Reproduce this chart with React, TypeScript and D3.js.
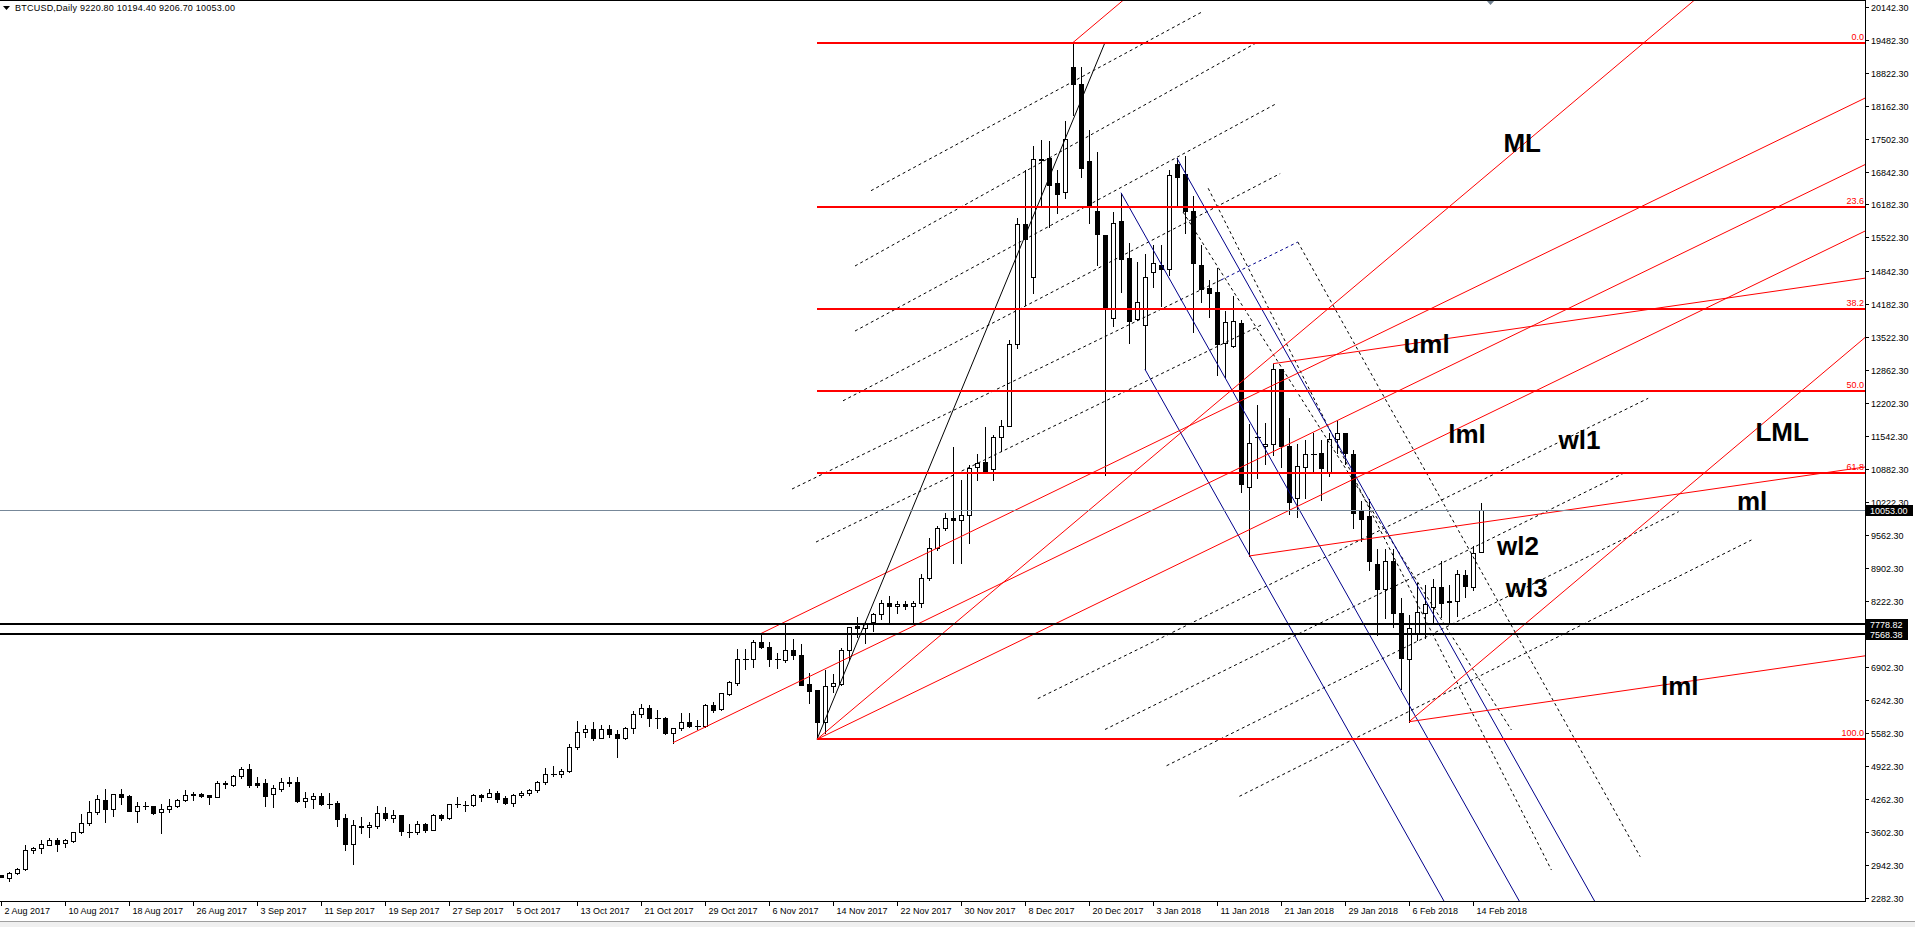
import React, { useRef, useEffect } from 'react';
import * as d3 from 'd3';

// BTCUSD daily bars, index 0 = 2 Aug 2017, last = 15 Feb 2018
const opens = [
  2737, 2670, 2770, 2851, 3232, 3272, 3332, 3439, 3372, 3425,
  3593, 3773, 3994, 4241, 4054, 4361, 4321, 4014, 4114, 4114,
  3994, 4054, 4114, 4234, 4335, 4355, 4335, 4308, 4575, 4548,
  4716, 4856, 4575, 4575, 4355, 4468, 4595, 4595, 4228, 4261,
  4315, 4168, 4174, 3880, 3359, 3720, 3693, 3726, 3974, 3887,
  3934, 3606, 3593, 3753, 3646, 3940, 3887, 4154, 4148, 4148,
  4335, 4308, 4375, 4281, 4188, 4335, 4380, 4440, 4610, 4770,
  4760, 4820, 5297, 5598, 5671, 5491, 5658, 5565, 5478, 5685,
  5959, 6079, 5879, 5879, 5591, 5678, 5812, 5732, 5732, 6139,
  6059, 6367, 6580, 7062, 7062, 7409, 7316, 7075, 7049, 7242,
  7142, 6560, 6447, 5812, 6527, 6567, 7249, 7730, 7683, 7817,
  7971, 8184, 8131, 8171, 8131, 8184, 8700, 9300, 9700, 9900,
  9850, 9950, 10912, 11012, 10872, 11513, 11747, 13378, 15784, 14735,
  17088, 17121, 16607, 16439, 18932, 18592, 17054, 16052, 15570, 13899,
  15858, 15102, 13879, 13765, 14835, 14962, 14882, 16987, 16794, 16052,
  14962, 14501, 14420, 13411, 13345, 13799, 10511, 11526, 11339, 11379,
  12884, 11346, 10303, 10925, 11179, 11192, 10791, 11473, 11593, 11172,
  10036, 9935, 8967, 8466, 9033, 7984, 7062, 7583, 7997, 8104,
  8505, 8204, 8231, 8745, 8505, 9220.8,
];
const highs = [
  2745, 2804, 2884, 3339, 3305, 3439, 3472, 3472, 3452, 3607,
  3960, 4221, 4335, 4461, 4355, 4461, 4335, 4194, 4194, 4127,
  4154, 4261, 4261, 4441, 4395, 4375, 4335, 4622, 4622, 4736,
  4896, 4963, 4696, 4656, 4542, 4676, 4696, 4696, 4408, 4381,
  4381, 4381, 4214, 3954, 3833, 3907, 3800, 4121, 4101, 4034,
  3940, 3760, 3820, 3773, 3954, 3954, 4168, 4295, 4214, 4355,
  4355, 4461, 4422, 4321, 4355, 4420, 4470, 4620, 4880, 4920,
  4870, 5363, 5825, 5745, 5812, 5745, 5745, 5645, 5712, 6033,
  6159, 6146, 6046, 5906, 5678, 5979, 5979, 5845, 6159, 6213,
  6394, 6634, 7269, 7269, 7450, 7580, 7416, 7182, 7783, 7463,
  7362, 6781, 6447, 6848, 6761, 7282, 7717, 7917, 7817, 7984,
  8251, 8332, 8238, 8238, 8238, 8780, 9500, 9730, 10000, 11326,
  10658, 10960, 11179, 11727, 11560, 11861, 13465, 15905, 16874, 17355,
  17475, 17455, 16874, 17856, 19430, 18932, 17676, 17241, 15570, 16038,
  16419, 15403, 15022, 15189, 15370, 15370, 16874, 17108, 17154, 16352,
  15370, 14668, 14902, 14053, 14347, 13866, 11780, 12162, 11807, 12990,
  12891, 11907, 11379, 11459, 11593, 11459, 11593, 11847, 11593, 11259,
  10236, 10270, 9281, 9281, 9281, 8300, 7944, 8584, 8551, 8678,
  9033, 8545, 8852, 8852, 9334, 10194.4,
];
const lows = [
  2690, 2623, 2750, 2831, 3171, 3171, 3332, 3225, 3292, 3405,
  3573, 3740, 3954, 3807, 3927, 4167, 4027, 3807, 4054, 3967,
  3586, 4007, 4101, 4214, 4241, 4295, 4167, 4308, 4475, 4528,
  4682, 4508, 4508, 4128, 4107, 4428, 4528, 4201, 4107, 4087,
  4134, 4087, 3720, 3245, 2964, 3586, 3506, 3680, 3840, 3800,
  3539, 3506, 3553, 3600, 3646, 3833, 3854, 4107, 4014, 4128,
  4221, 4308, 4201, 4167, 4127, 4300, 4350, 4400, 4560, 4720,
  4700, 4810, 5257, 5511, 5444, 5478, 5511, 5110, 5465, 5591,
  5899, 5732, 5678, 5565, 5391, 5645, 5698, 5665, 5712, 6012,
  6046, 6340, 6547, 6874, 6915, 7282, 6928, 6894, 7015, 7075,
  6554, 6179, 5458, 5591, 6413, 6547, 7048, 7516, 7396, 7637,
  7870, 7783, 7984, 8080, 7817, 8120, 8650, 9250, 9650, 9000,
  9000, 9400, 10658, 10791, 10658, 11243, 11740, 13311, 14167, 14400,
  16172, 15738, 16005, 16306, 17977, 16740, 15805, 14969, 10758, 13746,
  14434, 13411, 13866, 12877, 14535, 14146, 14768, 16138, 15604, 13632,
  14233, 13933, 12764, 12730, 13331, 10424, 9134, 10691, 10978, 11152,
  10918, 9982, 9915, 10290, 10825, 10263, 10731, 11192, 10978, 9695,
  9434, 8848, 7547, 7881, 7717, 6474, 5811, 7449, 7483, 7817,
  7917, 7804, 7931, 8311, 8445, 9206.7,
];
const closes = [
  2700, 2770, 2851, 3232, 3278, 3352, 3432, 3365, 3432, 3593,
  3773, 3994, 4261, 4054, 4355, 4308, 4027, 4114, 4114, 3980,
  4054, 4121, 4241, 4335, 4355, 4321, 4308, 4575, 4560, 4716,
  4856, 4542, 4542, 4328, 4475, 4595, 4589, 4228, 4274, 4315,
  4161, 4168, 3867, 3359, 3733, 3693, 3740, 3974, 3887, 3934,
  3626, 3606, 3753, 3640, 3940, 3887, 4154, 4154, 4148, 4335,
  4308, 4375, 4268, 4188, 4335, 4380, 4440, 4610, 4770, 4760,
  4820, 5310, 5598, 5671, 5491, 5658, 5558, 5478, 5685, 5959,
  6079, 5879, 5879, 5591, 5678, 5812, 5725, 5732, 6139, 6046,
  6380, 6600, 7062, 7062, 7409, 7302, 7075, 7075, 7242, 7142,
  6554, 6433, 5812, 6534, 6580, 7249, 7717, 7683, 7783, 7971,
  8184, 8131, 8171, 8131, 8184, 8700, 9300, 9700, 9900, 9850,
  9950, 10892, 10992, 10805, 11513, 11740, 13378, 15784, 15484, 17088,
  17080, 16573, 16386, 17489, 18592, 16907, 16158, 15584, 14133, 15818,
  15082, 13852, 14233, 14721, 15002, 14882, 16767, 16740, 16052, 15002,
  14480, 14414, 13378, 13832, 13846, 10571, 11406, 11520, 11379, 12884,
  11346, 10210, 10938, 11172, 11179, 10905, 11473, 11593, 11192, 10003,
  9869, 9040, 8466, 9033, 7984, 7082, 7683, 8017, 8171, 8505,
  8198, 8238, 8765, 8532, 9200, 10053,
];

const dateBars = [0, 8, 16, 24, 32, 40, 48, 56, 64, 72, 80, 88, 96, 104, 112, 120, 128, 136, 144, 152, 160, 168, 176, 184];
const dateLabels = [
  '2 Aug 2017', '10 Aug 2017', '18 Aug 2017', '26 Aug 2017', '3 Sep 2017', '11 Sep 2017',
  '19 Sep 2017', '27 Sep 2017', '5 Oct 2017', '13 Oct 2017', '21 Oct 2017', '29 Oct 2017',
  '6 Nov 2017', '14 Nov 2017', '22 Nov 2017', '30 Nov 2017', '8 Dec 2017', '20 Dec 2017',
  '3 Jan 2018', '11 Jan 2018', '21 Jan 2018', '29 Jan 2018', '6 Feb 2018', '14 Feb 2018',
];

const priceTicks = [
  20142.3, 19482.3, 18822.3, 18162.3, 17502.3, 16842.3, 16182.3, 15522.3, 14842.3,
  14182.3, 13522.3, 12862.3, 12202.3, 11542.3, 10882.3, 10222.3, 9562.3, 8902.3,
  8222.3, 6902.3, 6242.3, 5582.3, 4922.3, 4262.3, 3602.3, 2942.3, 2282.3,
];

// fibonacci retracement: low anchor, high anchor (bar, price)
const fibLevels = [0, 23.6, 38.2, 50, 61.8, 100];
const fibLow: [number, number] = [102, 5458];
const fibHigh: [number, number] = [138, 19430];

// Andrews pitchforks: three pivots each (bar, price)
const pitchforkRed: [number, number][][] = [
  [[102, 5458], [134, 19430], [176, 5811]],
  [[156, 9134], [159, 12990], [176, 5811]],
  [[84, 5391], [95, 7580], [102, 5458]],
];
const pitchforkBlue: [number, number][] = [[140, 16419], [143, 12877], [147, 17108]];

// dotted trend lines: bar1, price1, bar2, price2
const dottedLines: [number, number, number, number][] = [
  [108.75, 16459, 150.25, 20054],
  [106.75, 14949, 157.1, 19440],
  [106.75, 13645, 159.4, 18203],
  [105.25, 12246, 159.9, 16802],
  [98.875, 10477, 152.5, 14668],
  [101.875, 9414, 157.6, 13770],
  [129.6, 6274, 205.9, 12296],
  [138, 5655, 202.8, 10792],
  [145.7, 4929, 209.7, 10022],
  [154.8, 4315, 218.8, 9455],
  [150.9, 16507, 193.8, 2837],
  [162.1, 15430, 204.9, 3104],
  [147.75, 16032, 188.8, 5645],
];
const dottedBlue: [number, number, number, number][] = [[152.5, 14668, 162.1, 15430]];

const levelLines = [7778.82, 7568.38];
const lastPrice = 10053.0;

const noteText = ['ML', 'uml', 'lml', 'wl1', 'LML', 'ml', 'wl2', 'wl3', 'lml'];
const noteBar = [187.8, 175.3, 180.9, 194.7, 219.3, 217, 187, 188.1, 207.5];
const notePrice = [17241, 13198, 11394, 11273, 11446, 10056, 9154, 8317, 6346];

const App: React.FC = () => {
  const ref = useRef<SVGSVGElement>(null);

  useEffect(() => {
    const svg = d3.select(ref.current);
    svg.selectAll('*').remove();

    const font = "'Liberation Sans', Arial, sans-serif";
    const right = 1865;
    const bottom = 901;
    const red = '#ff0000';
    const blue = '#00008b';

    const x = d3.scaleLinear().domain([0, 185]).range([1, 1481]);
    const y = d3.scaleLinear().domain([2282.3, 20142.3]).range([897.7, 7]);
    const px = (i: number) => Math.round(x(i)) + 0.5;
    const py = (p: number) => Math.round(y(p)) + 0.5;

    svg.append('rect').attr('width', 1915).attr('height', 927).attr('fill', '#fff');
    svg.append('defs').append('clipPath').attr('id', 'plot')
      .append('rect').attr('x', 0).attr('y', 0).attr('width', right).attr('height', bottom);

    const plot = svg.append('g').attr('clip-path', 'url(#plot)');

    // candles
    const bars = d3.range(opens.length);
    const cg = plot.append('g').attr('shape-rendering', 'crispEdges');
    cg.selectAll('line.wick').data(bars).join('line').attr('class', 'wick')
      .attr('x1', i => px(i)).attr('x2', i => px(i))
      .attr('y1', i => Math.round(y(highs[i]))).attr('y2', i => Math.round(y(lows[i])) + 1)
      .attr('stroke', '#000');
    const bodies = bars.filter(i => Math.abs(py(opens[i]) - py(closes[i])) >= 1);
    const dojis = bars.filter(i => Math.abs(py(opens[i]) - py(closes[i])) < 1);
    cg.selectAll('rect.body').data(bodies).join('rect').attr('class', 'body')
      .attr('x', i => px(i) - 2).attr('width', 4)
      .attr('y', i => py(Math.max(opens[i], closes[i])))
      .attr('height', i => py(Math.min(opens[i], closes[i])) - py(Math.max(opens[i], closes[i])))
      .attr('fill', i => (closes[i] >= opens[i] ? '#fff' : '#000'))
      .attr('stroke', '#000');
    cg.selectAll('line.doji').data(dojis).join('line').attr('class', 'doji')
      .attr('x1', i => px(i) - 2.5).attr('x2', i => px(i) + 3)
      .attr('y1', i => py(closes[i])).attr('y2', i => py(closes[i]))
      .attr('stroke', '#000');

    const seg = (
      g: d3.Selection<SVGGElement, unknown, null, undefined>,
      i1: number, p1: number, i2: number, p2: number,
      color: string, width = 1, dash?: string,
    ) => {
      const l = g.append('line')
        .attr('x1', x(i1)).attr('y1', y(p1)).attr('x2', x(i2)).attr('y2', y(p2))
        .attr('stroke', color).attr('stroke-width', width);
      if (dash) l.attr('stroke-dasharray', dash);
    };

    const og = plot.append('g');

    dottedLines.forEach(d => seg(og, d[0], d[1], d[2], d[3], '#000', 1, '3,3'));
    dottedBlue.forEach(d => seg(og, d[0], d[1], d[2], d[3], blue, 1, '3,3'));

    const fork = (pts: [number, number][], color: string) => {
      const mid: [number, number] = [(pts[1][0] + pts[2][0]) / 2, (pts[1][1] + pts[2][1]) / 2];
      const slope = (mid[1] - pts[0][1]) / (mid[0] - pts[0][0]);
      const far = 330;
      pts.forEach(p => seg(og, p[0], p[1], far, p[1] + slope * (far - p[0]), color, 1));
    };
    fork(pitchforkBlue, blue);
    pitchforkRed.forEach(f => fork(f, red));

    // fib retracement
    seg(og, fibLow[0], fibLow[1], fibHigh[0], fibHigh[1], '#000', 1);
    const fg = plot.append('g');
    fibLevels.forEach(lv => {
      const p = fibHigh[1] - (fibHigh[1] - fibLow[1]) * lv / 100;
      const yy = Math.round(y(p));
      fg.append('line').attr('x1', x(fibLow[0])).attr('x2', right)
        .attr('y1', yy).attr('y2', yy).attr('stroke', red).attr('stroke-width', 2);
      fg.append('text').attr('x', right - 1).attr('y', yy - 3)
        .attr('text-anchor', 'end').attr('font-family', font).attr('font-size', 9)
        .attr('fill', red).text(lv === 100 ? '100.0' : lv.toFixed(1));
    });

    levelLines.forEach(v => {
      const yy = Math.round(y(v));
      fg.append('line').attr('x1', 0).attr('x2', right).attr('y1', yy).attr('y2', yy)
        .attr('stroke', '#000').attr('stroke-width', 2);
    });
    fg.append('line').attr('x1', 0).attr('x2', right)
      .attr('y1', py(lastPrice)).attr('y2', py(lastPrice)).attr('stroke', '#778899');

    // text notes
    noteText.forEach((t, k) => {
      plot.append('text').attr('x', x(noteBar[k])).attr('y', y(notePrice[k]))
        .attr('font-family', font).attr('font-weight', 'bold').attr('font-size', 26)
        .attr('fill', '#000').text(t);
    });

    // header
    svg.append('path').attr('d', 'M3,6 L10,6 L6.5,10 Z').attr('fill', '#000');
    svg.append('text').attr('x', 15).attr('y', 11).attr('font-family', font).attr('font-size', 9)
      .attr('textLength', 220).attr('lengthAdjust', 'spacing')
      .text('BTCUSD,Daily  9220.80 10194.40 9206.70 10053.00');
    svg.append('path').attr('d', 'M1486,0 L1495,0 L1490.5,5 Z').attr('fill', '#708090');

    // frame
    const frame = svg.append('g').attr('shape-rendering', 'crispEdges');
    frame.append('line').attr('x1', 0).attr('x2', right + 1).attr('y1', 0.5).attr('y2', 0.5).attr('stroke', '#000');
    frame.append('line').attr('x1', right + 0.5).attr('x2', right + 0.5).attr('y1', 0).attr('y2', bottom + 1).attr('stroke', '#000');
    frame.append('line').attr('x1', 0).attr('x2', right + 1).attr('y1', bottom + 0.5).attr('y2', bottom + 0.5).attr('stroke', '#000');

    // price axis
    priceTicks.forEach(v => {
      const yy = py(v);
      frame.append('line').attr('x1', right).attr('x2', right + 4).attr('y1', yy).attr('y2', yy).attr('stroke', '#000');
      svg.append('text').attr('x', right + 6).attr('y', yy + 3.5).attr('font-family', font)
        .attr('font-size', 9).attr('fill', '#000').text(v.toFixed(2));
    });
    const tag = (v: number, w: number) => {
      const yy = Math.round(y(v));
      svg.append('rect').attr('x', right + 1).attr('y', yy - 5).attr('width', w).attr('height', 11).attr('fill', '#000');
      svg.append('text').attr('x', right + 5).attr('y', yy + 4).attr('font-family', font)
        .attr('font-size', 9).attr('fill', '#fff').text(v.toFixed(2));
    };
    tag(lastPrice, 47);
    levelLines.forEach(v => tag(v, 42));

    // time axis
    dateBars.forEach((b, k) => {
      const xx = px(b);
      frame.append('line').attr('x1', xx).attr('x2', xx).attr('y1', bottom).attr('y2', bottom + 5).attr('stroke', '#000');
      svg.append('text').attr('x', xx + 3).attr('y', bottom + 13).attr('font-family', font)
        .attr('font-size', 9).attr('fill', '#000').text(dateLabels[k]);
    });

    svg.append('rect').attr('x', 0).attr('y', 921).attr('width', 1915).attr('height', 6).attr('fill', '#f0f0f0');
    svg.append('line').attr('x1', 0).attr('x2', 1915).attr('y1', 921.5).attr('y2', 921.5).attr('stroke', '#a0a0a0');
  }, []);

  return (
    <svg ref={ref} width="1915" height="927" style={{ position: 'absolute', left: 0, top: 0, display: 'block' }}></svg>
  );
};

export default App;
